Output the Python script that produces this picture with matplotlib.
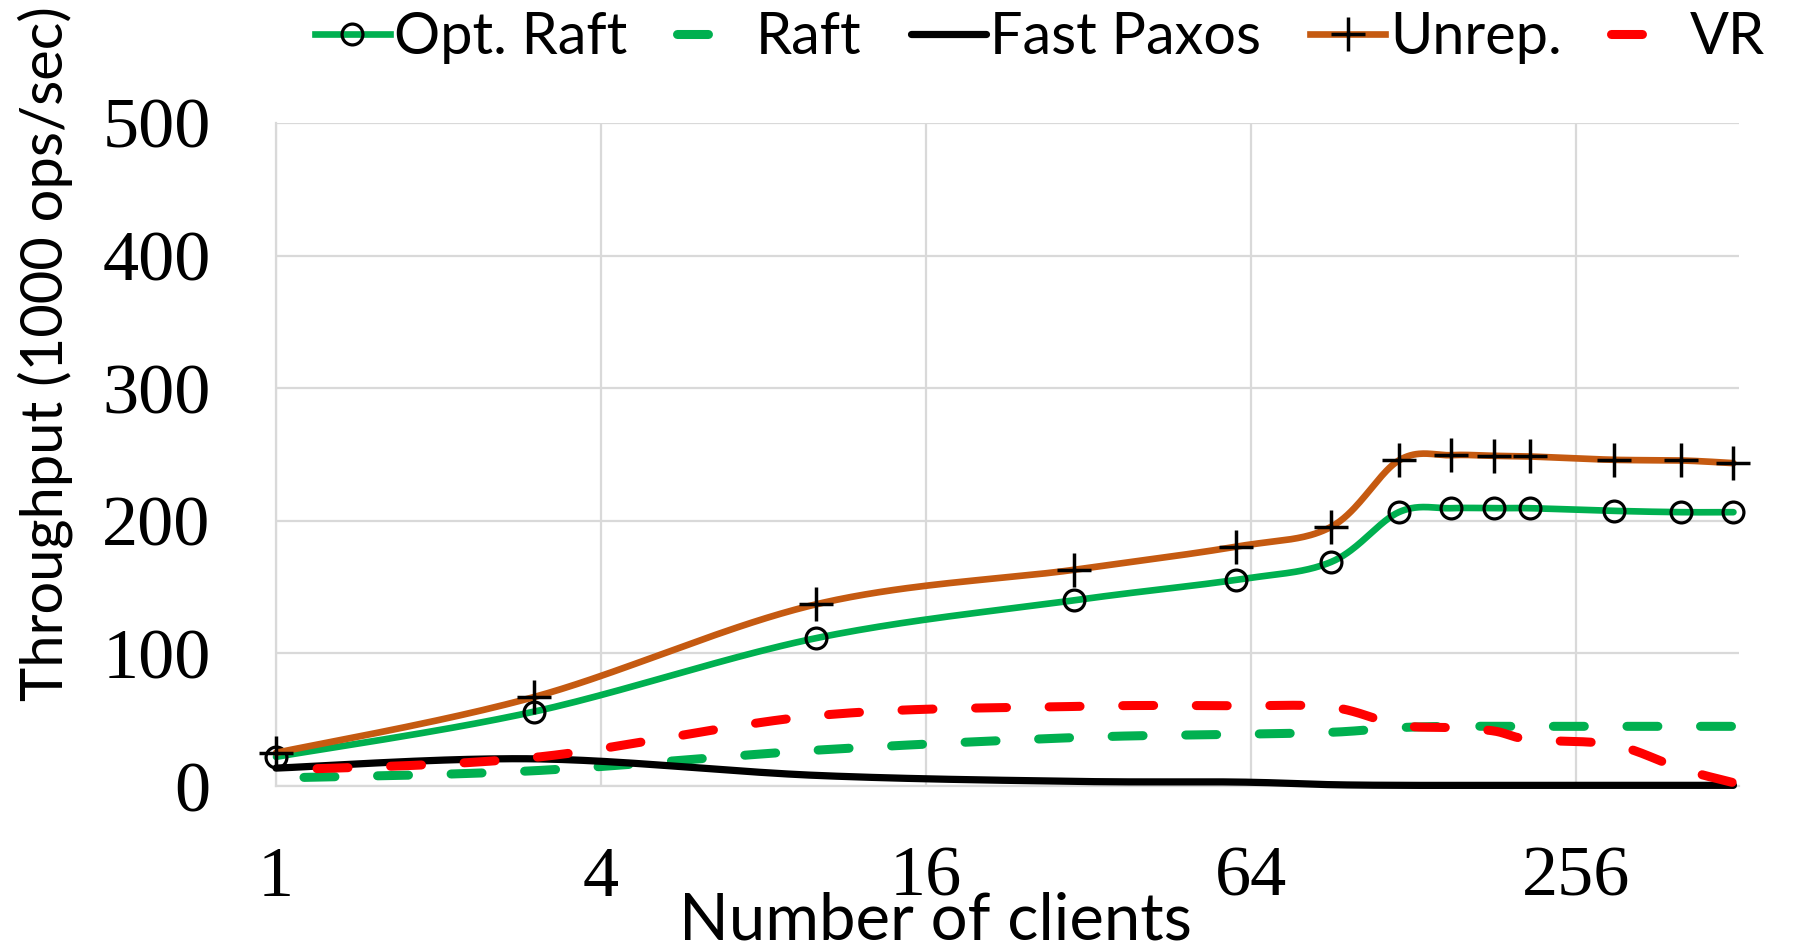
import numpy as np
import matplotlib
matplotlib.use("Agg")
import matplotlib.pyplot as plt
from matplotlib.lines import Line2D

# throughput (1000 ops/sec) against number of clients
clients = [1, 3, 10, 30, 60, 90, 120, 150, 180, 210, 300, 400, 500]
opt_raft = [22, 56, 111.5, 140, 155.5, 169, 206.5, 209.5, 209.5, 209.5, 207.5, 206.5, 206.5]
raft = [6, 11.5, 27, 36.5, 39, 40.5, 44, 45, 45, 45, 45, 45, 45]
fast_paxos = [13.5, 20.5, 8, 3.5, 3, 1, 0.5, 0.5, 0.5, 0.5, 0.5, 0.5, 0.5]
unrep = [25, 67, 137, 163, 180.5, 195.5, 245.5, 249.5, 249, 248.5, 246, 245.5, 243.5]
vr = [12, 21.5, 53, 60, 60.5, 59.5, 46, 44, 41.5, 35, 31, 13, 2.5]

xticks = [1, 4, 16, 64, 256]
yticks = [0, 100, 200, 300, 400, 500]

GREEN = "#00B050"
ORANGE = "#C55A11"
RED = "#FF0000"
GRID = "#D9D9D9"

W, H = 1805, 949
L, R, T, B = 276, 1739, 123, 786
KX = (R - L) / 9.0      # px per doubling
KY = (B - T) / 500.0    # px per unit

def smooth(xs, ys, steps=40):
    # Bezier smoothing (Catmull-Rom control points) done in pixel space
    p = np.column_stack([np.log2(xs) * KX, np.asarray(ys, float) * KY])
    n = len(p)
    t = np.linspace(0, 1, steps)[1:, None]
    out = [p[:1]]
    for i in range(n - 1):
        p0, p1, p2, p3 = p[max(i - 1, 0)], p[i], p[i + 1], p[min(i + 2, n - 1)]
        c1 = p1 + (p2 - p0) / 6
        c2 = p2 - (p3 - p1) / 6
        out.append((1 - t) ** 3 * p1 + 3 * (1 - t) ** 2 * t * c1
                   + 3 * (1 - t) * t ** 2 * c2 + t ** 3 * p2)
    q = np.vstack(out)
    return 2 ** (q[:, 0] / KX), q[:, 1] / KY

fig = plt.figure(figsize=(W / 100, H / 100), dpi=100)
ax = fig.add_axes([L / W, 1 - B / H, (R - L) / W, (B - T) / H])

DASH = (3.43, 4.72)
circ = dict(marker="o", ms=15, mfc="none", mec="black", mew=2.3, ls="none")
plus = dict(marker="+", ms=24, mec="black", mew=2.5, ls="none")

ax.plot(*smooth(clients, opt_raft), color=GREEN, lw=4.8,
        solid_capstyle="round", clip_on=False, zorder=3)
ax.plot(clients, opt_raft, clip_on=False, zorder=3, **circ)
ax.plot(*smooth(clients, raft), color=GREEN, lw=6.5, ls=(5.05, DASH),
        dash_capstyle="round", clip_on=False, zorder=4)
ax.plot(*smooth(clients, fast_paxos), color="black", lw=5.2,
        solid_capstyle="round", clip_on=False, zorder=5)
ax.plot(*smooth(clients, unrep), color=ORANGE, lw=4.8,
        solid_capstyle="round", clip_on=False, zorder=6)
ax.plot(clients, unrep, clip_on=False, zorder=6, **plus)
ax.plot(*smooth(clients, vr), color=RED, lw=6.5, ls=(3.6, DASH),
        dash_capstyle="round", clip_on=False, zorder=7)

ax.set_xscale("log", base=2)
ax.set_xlim(1, 512)
ax.set_ylim(0, 500)
ax.set_xticks(xticks)
ax.set_xticklabels([str(v) for v in xticks])
ax.xaxis.set_minor_locator(matplotlib.ticker.NullLocator())
ax.set_yticks(yticks)
ax.grid(True, color=GRID, lw=1.6, zorder=0)
ax.set_axisbelow(True)
for s in ("top", "right"):
    ax.spines[s].set_visible(False)
for s in ("left", "bottom"):
    ax.spines[s].set_color(GRID)
    ax.spines[s].set_linewidth(1.6)
ax.tick_params(axis="both", length=0, labelsize=52)
ax.tick_params(axis="x", pad=43)
ax.tick_params(axis="y", pad=47)
for lab in ax.get_xticklabels() + ax.get_yticklabels():
    lab.set_fontfamily("Liberation Serif")

fig.text(63 / W, 1 - 354 / H, "Throughput (1000 ops/sec)", rotation=90,
         rotation_mode="anchor", ha="center", va="baseline",
         family="Lato", fontsize=41.7)
fig.text(935 / W, 1 - 940 / H, "Number of clients", ha="center",
         va="baseline", family="Lato", fontsize=47)

handles = [
    Line2D([], [], color=GREEN, lw=4.8, marker="o", ms=15, mfc="none",
           mec="black", mew=2.3),
    Line2D([], [], color=GREEN, lw=6.5, ls=(0, (3.43, 8)), dash_capstyle="round"),
    Line2D([], [], color="black", lw=5.2, solid_capstyle="round"),
    Line2D([], [], color=ORANGE, lw=4.8, marker="+", ms=24, mec="black", mew=2.5),
    Line2D([], [], color=RED, lw=6.5, ls=(0, (3.43, 8)), dash_capstyle="round"),
]
names = ["Opt. Raft", "Raft", "Fast Paxos", "Unrep.", "VR"]
fig.legend(handles, names, loc="center", bbox_to_anchor=(1040 / W, 1 - 38 / H),
           ncol=5, frameon=False, borderpad=0, borderaxespad=0,
           handlelength=1.3, handletextpad=0.08, columnspacing=0.85,
           prop={"family": "Lato", "size": 41.5})

fig.savefig("out.png", dpi=100)
